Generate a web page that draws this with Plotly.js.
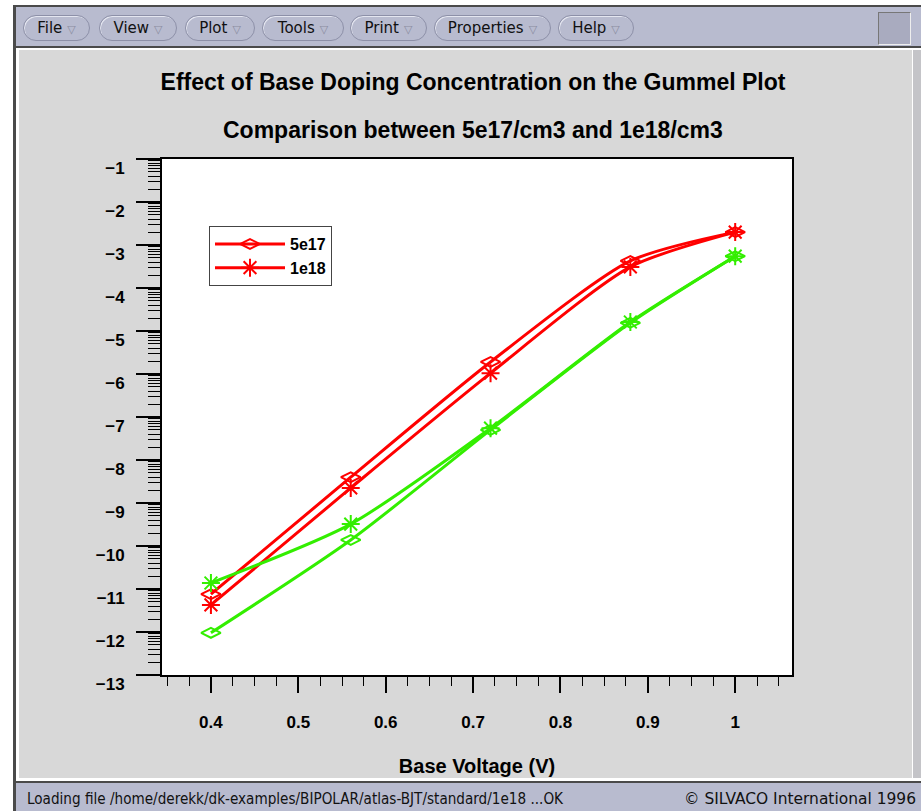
<!DOCTYPE html>
<html>
<head>
<meta charset="utf-8">
<script src="https://cdn.plot.ly/plotly-3.0.1.min.js"></script>
<style>
  html, body { margin:0; padding:0; width:921px; height:811px; overflow:hidden; background:#ffffff; }
  .abs { position:absolute; }
  .btn { position:absolute; top:15px; height:24px; border:1px solid #8d90a8; border-radius:13px;
         box-shadow: inset 1px 1px 0 #e4e6f0; font-family:"DejaVu Sans", "Liberation Sans", sans-serif;
         font-size:15px; line-height:24px; color:#111; text-align:center; white-space:nowrap; }
  .btn .tri { color:#8a8ca0; font-size:11px; margin-left:5px; }
  .status { position:absolute; top:789px; font-family:"DejaVu Sans Condensed", "Liberation Sans Narrow", "DejaVu Sans", sans-serif;
            font-size:15px; line-height:20px; color:#111; white-space:nowrap; transform-origin:0 50%; }
</style>
</head>
<body>
<!-- window chrome -->
<div class="abs" style="left:13px;top:5px;width:908px;height:806px;background:#4a4a4a;"></div>
<div class="abs" style="left:16px;top:7px;width:905px;height:39px;background:#b8bbcf;"></div>
<div class="abs" style="left:16px;top:48px;width:905px;height:733px;background:#ffffff;"></div>
<div class="abs" style="left:19px;top:50px;width:893px;height:728px;background:#d8d8d8;"></div>
<div class="abs" style="left:913px;top:50px;width:8px;height:728px;background:#c4c4c8;"></div>
<div class="abs" style="left:16px;top:783px;width:905px;height:28px;background:#b8bbcf;"></div>
<div class="abs" style="left:878px;top:12px;width:31px;height:31px;background:#a9abbf;border-top:1px solid #777;border-left:1px solid #777;border-right:1px solid #eee;border-bottom:1px solid #eee;"></div>

<div class="btn" style="left:23px;width:65px;">File<span class="tri">▽</span></div>
<div class="btn" style="left:99px;width:76px;">View<span class="tri">▽</span></div>
<div class="btn" style="left:185px;width:68px;">Plot<span class="tri">▽</span></div>
<div class="btn" style="left:262px;width:80px;">Tools<span class="tri">▽</span></div>
<div class="btn" style="left:350px;width:75px;">Print<span class="tri">▽</span></div>
<div class="btn" style="left:434px;width:115px;">Properties<span class="tri">▽</span></div>
<div class="btn" style="left:558px;width:74px;">Help<span class="tri">▽</span></div>

<div class="status" id="st1" data-w="536" style="left:27px;">Loading file /home/derekk/dk-examples/BIPOLAR/atlas-BJT/standard/1e18 ...OK</div>
<div class="status" id="st2" data-w="232" style="left:684px;">© SILVACO International 1996</div>

<div id="chart" class="abs" style="left:0;top:0;width:921px;height:811px;"></div>

<script>
// ---- data ----
const baseVoltage = [0.4, 0.56, 0.72, 0.88, 1.0];
const red5e17   = [-11.12, -8.40, -5.72, -3.37, -2.70];
const red1e18   = [-11.37, -8.65, -5.98, -3.51, -2.70];
const green5e17 = [-12.02, -9.86, -7.30, -4.81, -3.26];
const green1e18 = [-10.86, -9.49, -7.26, -4.79, -3.26];
const seriesNames = ['5e17', '1e18'];
const xTickVals = [0.4, 0.5, 0.6, 0.7, 0.8, 0.9, 1.0];
const xTickText = ['0.4', '0.5', '0.6', '0.7', '0.8', '0.9', '1'];
const yTickVals = [-13, -12, -11, -10, -9, -8, -7, -6, -5, -4, -3, -2, -1];
const yTickText = ['\u221213', '\u221212', '\u221211', '\u221210', '\u22129', '\u22128', '\u22127', '\u22126', '\u22125', '\u22124', '\u22123', '\u22122', '\u22121'];

// fit status-bar texts to the widths seen in the reference
['st1', 'st2'].forEach(function (id) {
  const el = document.getElementById(id);
  const target = parseFloat(el.getAttribute('data-w'));
  const w = el.getBoundingClientRect().width;
  if (w > 0) el.style.transform = 'scaleX(' + (target / w) + ')';
});

// log-style minor ticks inside each decade
const yMinor = [];
for (let n = -12; n <= -1; n++) {
  for (let k = 2; k <= 9; k++) yMinor.push(n - 1 + Math.log10(k));
}

const RED = '#ff0000', GREEN = '#33ee00';
const FONT = 'Liberation Sans, Arial, Helvetica, sans-serif';

function trace(y, name, color, symbol, show) {
  return {
    x: baseVoltage, y: y, name: name, type: 'scatter', mode: 'lines+markers',
    showlegend: show,
    line: {color: color, width: 3, shape: 'spline', smoothing: 0.7},
    marker: {symbol: symbol, size: symbol.indexOf('diamond') >= 0 ? 14 : 15, color: color,
             line: {color: color, width: 2}}
  };
}

const data = [
  trace(red5e17, seriesNames[0], RED, 'diamond-wide-open', true),
  trace(red1e18, seriesNames[1], RED, 'asterisk-open', true),
  trace(green5e17, seriesNames[0], GREEN, 'diamond-wide-open', false),
  trace(green1e18, seriesNames[1], GREEN, 'asterisk-open', false)
];

const layout = {
  width: 921, height: 811,
  paper_bgcolor: 'rgba(0,0,0,0)',
  plot_bgcolor: '#ffffff',
  margin: {l: 162, r: 129, t: 159, b: 136, pad: 0},
  showlegend: true,
  font: {family: FONT, color: '#000'},
  title: {
    text: '<b>Effect of Base Doping Concentration on the Gummel Plot</b>',
    font: {family: FONT, size: 23, color: '#000'},
    xref: 'container', yref: 'container', x: 473 / 921, y: 1 - 82 / 811,
    xanchor: 'center', yanchor: 'middle'
  },
  annotations: [{
    text: '<b>Comparison between 5e17/cm3 and 1e18/cm3</b>',
    xref: 'paper', yref: 'paper', x: (473 - 162) / 630, y: (675 - 130) / 516,
    xanchor: 'center', yanchor: 'middle', showarrow: false,
    font: {family: FONT, size: 23, color: '#000'}
  }],
  xaxis: {
    range: [0.344, 1.065],
    tickmode: 'array', tickvals: xTickVals, ticktext: xTickText,
    ticks: 'outside', ticklen: 16, tickwidth: 2, tickcolor: '#000',
    minor: {dtick: 0.025, tick0: 0, ticks: 'outside', ticklen: 9, tickwidth: 1, tickcolor: '#000', showgrid: false},
    ticklabelstandoff: 15,
    showgrid: false, zeroline: false,
    showline: true, linecolor: '#000', linewidth: 2, mirror: true,
    tickfont: {family: FONT, size: 17, color: '#000', weight: 'bold'},
    title: {text: '<b>Base Voltage (V)</b>', font: {family: FONT, size: 20, color: '#000'}, standoff: 28}
  },
  yaxis: {
    range: [-13, -1],
    tickmode: 'array', tickvals: yTickVals, ticktext: yTickText,
    ticks: 'outside', ticklen: 24, tickwidth: 2, tickcolor: '#000',
    minor: {tickmode: 'array', tickvals: yMinor, ticks: 'outside', ticklen: 12, tickwidth: 1, tickcolor: '#000', showgrid: false},
    ticklabelshift: 9, ticklabelstandoff: 8,
    showgrid: false, zeroline: false,
    showline: true, linecolor: '#000', linewidth: 2, mirror: true,
    tickfont: {family: FONT, size: 17, color: '#000', weight: 'bold'}
  },
  legend: {
    x: (209 - 162) / 630, y: (675 - 226) / 516, xanchor: 'left', yanchor: 'top',
    bgcolor: '#ffffff', bordercolor: '#444', borderwidth: 1,
    itemwidth: 70, tracegroupgap: 0,
    font: {family: FONT, size: 16, color: '#000', weight: 'bold'}
  }
};

Plotly.newPlot('chart', data, layout, {displayModeBar: false, staticPlot: true});
</script>
</body>
</html>
